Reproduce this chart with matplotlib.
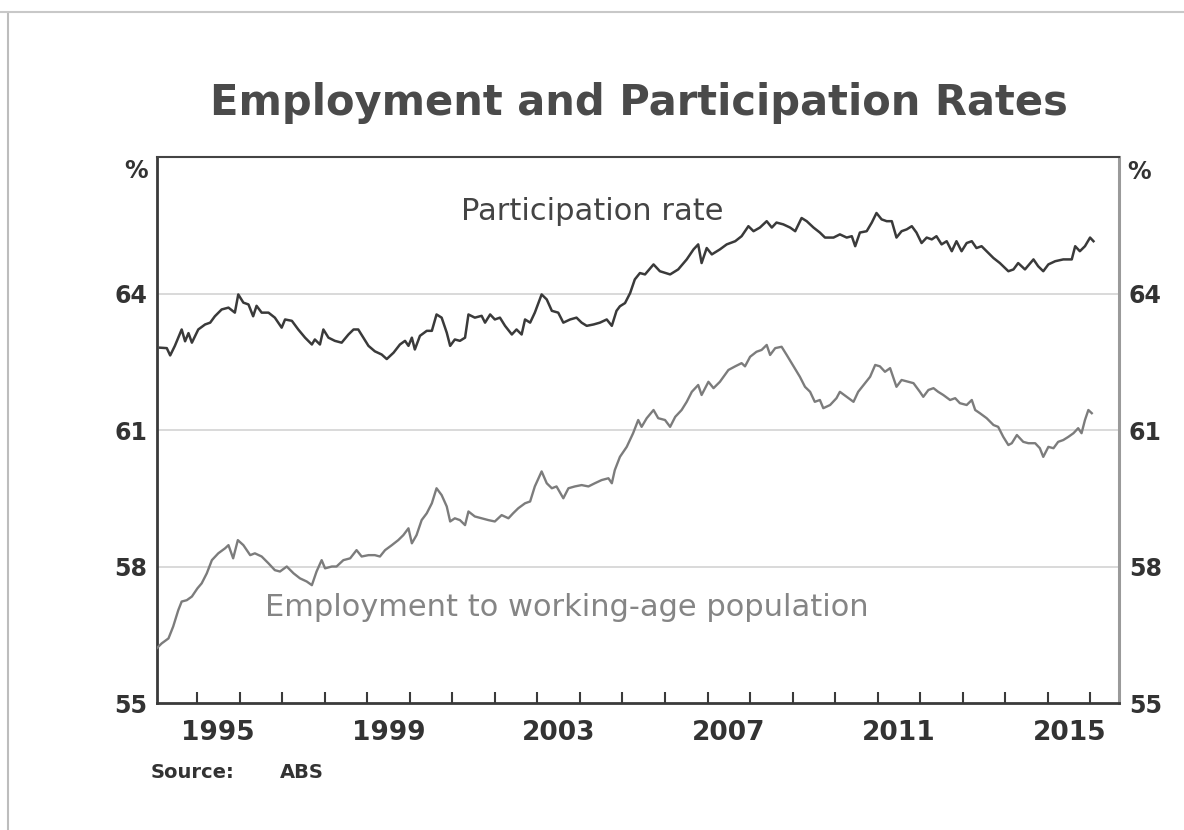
import matplotlib
matplotlib.use('Agg')
import matplotlib.pyplot as plt
from matplotlib.lines import Line2D

# Participation rate (decimal year, per cent)
part_years = [1994.13, 1994.29, 1994.37, 1994.48, 1994.64, 1994.72, 1994.80, 1994.88,
              1995.03, 1995.19, 1995.31, 1995.42, 1995.58, 1995.74, 1995.89, 1995.97,
              1996.09, 1996.21, 1996.32, 1996.40, 1996.52, 1996.68, 1996.83, 1996.99,
              1997.07, 1997.23, 1997.38, 1997.54, 1997.70, 1997.77, 1997.89, 1997.97,
              1998.09, 1998.24, 1998.40, 1998.56, 1998.68, 1998.79, 1998.91, 1999.03,
              1999.18, 1999.34, 1999.46, 1999.62, 1999.77, 1999.89, 1999.97, 2000.05,
              2000.12, 2000.24, 2000.40, 2000.52, 2000.63, 2000.75, 2000.87, 2000.95,
              2001.06, 2001.18, 2001.30, 2001.38, 2001.53, 2001.69, 2001.77, 2001.89,
              2002.00, 2002.12, 2002.24, 2002.40, 2002.51, 2002.63, 2002.71, 2002.83,
              2002.94, 2003.10, 2003.22, 2003.34, 2003.49, 2003.61, 2003.77, 2003.92,
              2004.04, 2004.16, 2004.32, 2004.47, 2004.63, 2004.75, 2004.86,
              2004.94, 2005.06, 2005.18, 2005.29, 2005.41, 2005.53, 2005.73, 2005.88,
              2006.12, 2006.31, 2006.51, 2006.67, 2006.78, 2006.86, 2006.98, 2007.10,
              2007.29, 2007.45, 2007.65, 2007.80, 2007.96, 2008.08, 2008.23, 2008.39,
              2008.51, 2008.62, 2008.78, 2008.94, 2009.06, 2009.21, 2009.33, 2009.49,
              2009.64, 2009.76, 2009.96, 2010.11, 2010.27, 2010.39, 2010.47, 2010.58,
              2010.74, 2010.86, 2010.97, 2011.09, 2011.21, 2011.33, 2011.44, 2011.56,
              2011.68, 2011.80, 2011.91, 2012.03, 2012.15, 2012.27, 2012.38, 2012.50,
              2012.62, 2012.74, 2012.85, 2012.97, 2013.09, 2013.21, 2013.32, 2013.44,
              2013.56, 2013.72, 2013.87, 2014.07, 2014.19, 2014.30, 2014.46, 2014.66,
              2014.77, 2014.89, 2015.01, 2015.17, 2015.36, 2015.56, 2015.64, 2015.75,
              2015.87, 2015.99, 2016.07]
part_vals = [62.81, 62.80, 62.64, 62.85, 63.21, 62.95, 63.13, 62.92,
             63.21, 63.32, 63.36, 63.50, 63.65, 63.69, 63.58, 63.98,
             63.80, 63.76, 63.50, 63.73, 63.58, 63.58, 63.47, 63.25,
             63.43, 63.40, 63.21, 63.03, 62.88, 62.99, 62.88, 63.21,
             63.03, 62.96, 62.92, 63.10, 63.21, 63.21, 63.03, 62.85,
             62.73, 62.66, 62.56, 62.70, 62.88, 62.96, 62.85, 63.03,
             62.77, 63.07, 63.18, 63.18, 63.54, 63.47, 63.14, 62.85,
             62.99, 62.96, 63.03, 63.54, 63.47, 63.51, 63.36, 63.54,
             63.43, 63.47, 63.29, 63.10, 63.21, 63.10, 63.43, 63.36,
             63.58, 63.98, 63.87, 63.62, 63.58, 63.36, 63.43, 63.47,
             63.36, 63.29, 63.32, 63.36, 63.43, 63.29, 63.62,
             63.72, 63.79, 64.01, 64.31, 64.45, 64.42, 64.64, 64.49,
             64.42, 64.53, 64.75, 64.97, 65.08, 64.67, 65.00, 64.86,
             64.97, 65.08, 65.15, 65.26, 65.48, 65.37, 65.45, 65.59,
             65.45, 65.56, 65.52, 65.45, 65.37, 65.66, 65.59, 65.45,
             65.34, 65.23, 65.23, 65.30, 65.23, 65.26, 65.04, 65.34,
             65.37, 65.56, 65.77, 65.63, 65.59, 65.59, 65.23, 65.37,
             65.41, 65.48, 65.34, 65.11, 65.23, 65.19, 65.26, 65.08,
             65.15, 64.93, 65.15, 64.93, 65.11, 65.15, 65.00, 65.04,
             64.93, 64.78, 64.67, 64.49, 64.53, 64.67, 64.53, 64.75,
             64.60, 64.49, 64.64, 64.71, 64.75, 64.75, 65.04, 64.93,
             65.04, 65.23, 65.15]

# Employment to working-age population ratio (decimal year, per cent)
emp_years = [1994.05, 1994.17, 1994.33, 1994.44, 1994.56, 1994.64, 1994.76, 1994.88,
             1995.01, 1995.11, 1995.23, 1995.35, 1995.50, 1995.66, 1995.74, 1995.85,
             1995.96, 1996.09, 1996.25, 1996.36, 1996.52, 1996.68, 1996.83, 1996.95,
             1997.11, 1997.27, 1997.42, 1997.58, 1997.70, 1997.81, 1997.93, 1998.01,
             1998.17, 1998.28, 1998.44, 1998.60, 1998.75, 1998.87, 1999.03, 1999.18,
             1999.30, 1999.42, 1999.58, 1999.73, 1999.85, 1999.97, 2000.05, 2000.16,
             2000.28, 2000.40, 2000.52, 2000.63, 2000.75, 2000.87, 2000.95, 2001.06,
             2001.18, 2001.30, 2001.38, 2001.53, 2001.69, 2001.85, 2002.00, 2002.16,
             2002.32, 2002.43, 2002.55, 2002.71, 2002.83, 2002.94, 2003.10, 2003.22,
             2003.34, 2003.45, 2003.61, 2003.73, 2003.88, 2004.04, 2004.20, 2004.35,
             2004.51, 2004.67, 2004.75, 2004.82,
             2004.94, 2005.10, 2005.25, 2005.37, 2005.45, 2005.57, 2005.73, 2005.84,
             2006.00, 2006.12, 2006.24, 2006.39, 2006.51, 2006.63, 2006.78, 2006.86,
             2007.02, 2007.14, 2007.29, 2007.49, 2007.65, 2007.80, 2007.88, 2008.00,
             2008.15, 2008.27, 2008.39, 2008.47, 2008.59, 2008.74, 2008.86, 2009.02,
             2009.17, 2009.29, 2009.41, 2009.52, 2009.64, 2009.72, 2009.88, 2010.03,
             2010.11, 2010.27, 2010.43, 2010.54, 2010.70, 2010.82, 2010.94, 2011.05,
             2011.17, 2011.29, 2011.44, 2011.56, 2011.72, 2011.84, 2011.99, 2012.07,
             2012.19, 2012.31, 2012.42, 2012.54, 2012.70, 2012.82, 2012.93, 2013.09,
             2013.21, 2013.29, 2013.40, 2013.56, 2013.72, 2013.83, 2013.95, 2014.07,
             2014.15, 2014.27, 2014.42, 2014.54, 2014.70, 2014.81, 2014.89, 2015.01,
             2015.13, 2015.24, 2015.36, 2015.48, 2015.60, 2015.71, 2015.79, 2015.87,
             2015.95, 2016.03]
emp_vals = [56.20, 56.31, 56.42, 56.68, 57.04, 57.23, 57.26, 57.34,
            57.52, 57.63, 57.85, 58.14, 58.29, 58.40, 58.47, 58.18,
            58.58, 58.47, 58.25, 58.29, 58.22, 58.07, 57.92, 57.89,
            58.00, 57.85, 57.74, 57.67, 57.59, 57.89, 58.14, 57.96,
            58.00, 58.00, 58.14, 58.18, 58.36, 58.22, 58.25, 58.25,
            58.22, 58.36, 58.47, 58.58, 58.69, 58.84, 58.51, 58.69,
            59.02, 59.17, 59.39, 59.72, 59.57, 59.32, 58.99, 59.06,
            59.02, 58.91, 59.21, 59.10, 59.06, 59.02, 58.99, 59.13,
            59.06, 59.17, 59.28, 59.39, 59.43, 59.76, 60.09, 59.83,
            59.72, 59.76, 59.50, 59.72, 59.76, 59.79, 59.76, 59.83,
            59.90, 59.94, 59.83, 60.12,
            60.41, 60.63, 60.93, 61.22, 61.07, 61.26, 61.44, 61.26,
            61.22, 61.07, 61.29, 61.44, 61.62, 61.84, 61.99, 61.77,
            62.06, 61.92, 62.06, 62.32, 62.40, 62.47, 62.40, 62.61,
            62.72, 62.76, 62.87, 62.65, 62.80, 62.83, 62.65, 62.40,
            62.17, 61.95, 61.84, 61.62, 61.66, 61.48, 61.55, 61.70,
            61.84, 61.73, 61.62, 61.84, 62.03, 62.17, 62.43, 62.40,
            62.28, 62.36, 61.95, 62.10, 62.06, 62.03, 61.84, 61.73,
            61.88, 61.92, 61.84, 61.77, 61.66, 61.70, 61.59, 61.55,
            61.66, 61.44, 61.37, 61.26, 61.11, 61.07, 60.85, 60.67,
            60.71, 60.89, 60.74, 60.71, 60.71, 60.60, 60.41, 60.63,
            60.60, 60.74, 60.78, 60.85, 60.93, 61.04, 60.93, 61.22,
            61.44, 61.37]

tick_years = list(range(1995, 2017))
label_years = [1995, 1999, 2003, 2007, 2011, 2015]
y_ticks = [55, 58, 61, 64]

dark = '#3a3a3a'
fig = plt.figure(figsize=(11.84, 8.3), dpi=100)
ax = fig.add_axes([0.1326, 0.153, 0.8125, 0.6578])

for v in y_ticks[1:]:
    ax.axhline(v, color='#cfcfcf', lw=1.1, zorder=1)

ax.plot(part_years, part_vals, color=dark, lw=1.8, zorder=3)
ax.plot(emp_years, emp_vals, color='#7c7c7c', lw=1.7, zorder=3)

ax.set_xlim(1994.06, 2016.67)
ax.set_ylim(55, 67)

# year boundaries get tick marks, labels sit mid-year
ax.set_xticks(tick_years)
ax.set_xticklabels([])
ax.set_xticks([y + 0.5 for y in label_years], minor=True)
ax.set_xticklabels([str(y) for y in label_years], minor=True)
ax.tick_params(axis='x', which='major', direction='in', length=8, width=1.5, color=dark)
ax.tick_params(axis='x', which='minor', length=0, pad=12, labelsize=19,
               labelcolor='#333333')
for lab in ax.get_xticklabels(minor=True):
    lab.set_fontweight('bold')

ax.set_yticks(y_ticks)
ax.tick_params(axis='y', which='both', length=0, labelsize=17, labelcolor='#333333',
               left=True, right=True, labelleft=True, labelright=True)
ax.tick_params(axis='y', which='major', pad=7)
for t in ax.yaxis.get_major_ticks():
    t.label1.set_fontweight('bold')
    t.label2.set_fontweight('bold')

ax.spines['left'].set_color(dark)
ax.spines['left'].set_linewidth(2)
ax.spines['bottom'].set_color(dark)
ax.spines['bottom'].set_linewidth(2)
ax.spines['top'].set_color('#444444')
ax.spines['top'].set_linewidth(1.5)
ax.spines['right'].set_color('#9a9a9a')
ax.spines['right'].set_linewidth(2.2)

ax.text(-0.009, 0.975, '%', transform=ax.transAxes, ha='right', va='center',
        fontsize=17, fontweight='bold', color='#333333')
ax.text(1.009, 0.972, '%', transform=ax.transAxes, ha='left', va='center',
        fontsize=17, fontweight='bold', color='#333333')

ax.text(2004.3, 65.8, 'Participation rate', ha='center', va='center',
        fontsize=22, color='#444444')
ax.text(2003.7, 57.1, 'Employment to working-age population', ha='center', va='center',
        fontsize=22, color='#858585')

fig.text(0.54, 0.876, 'Employment and Participation Rates', ha='center', va='center',
         fontsize=30, fontweight='bold', color='#4a4a4a')
fig.text(0.127, 0.069, 'Source:', ha='left', va='center', fontsize=14,
         fontweight='bold', color='#333333')
fig.text(0.236, 0.069, 'ABS', ha='left', va='center', fontsize=14,
         fontweight='bold', color='#333333')

# outer frame of the scanned panel
fig.add_artist(Line2D([0.007, 0.007], [0.0, 0.983], color='#bdbdbd', lw=1.5))
fig.add_artist(Line2D([0.0, 1.0], [0.986, 0.986], color='#c8c8c8', lw=1.5))

fig.savefig('out.png', dpi=100, facecolor='white')
